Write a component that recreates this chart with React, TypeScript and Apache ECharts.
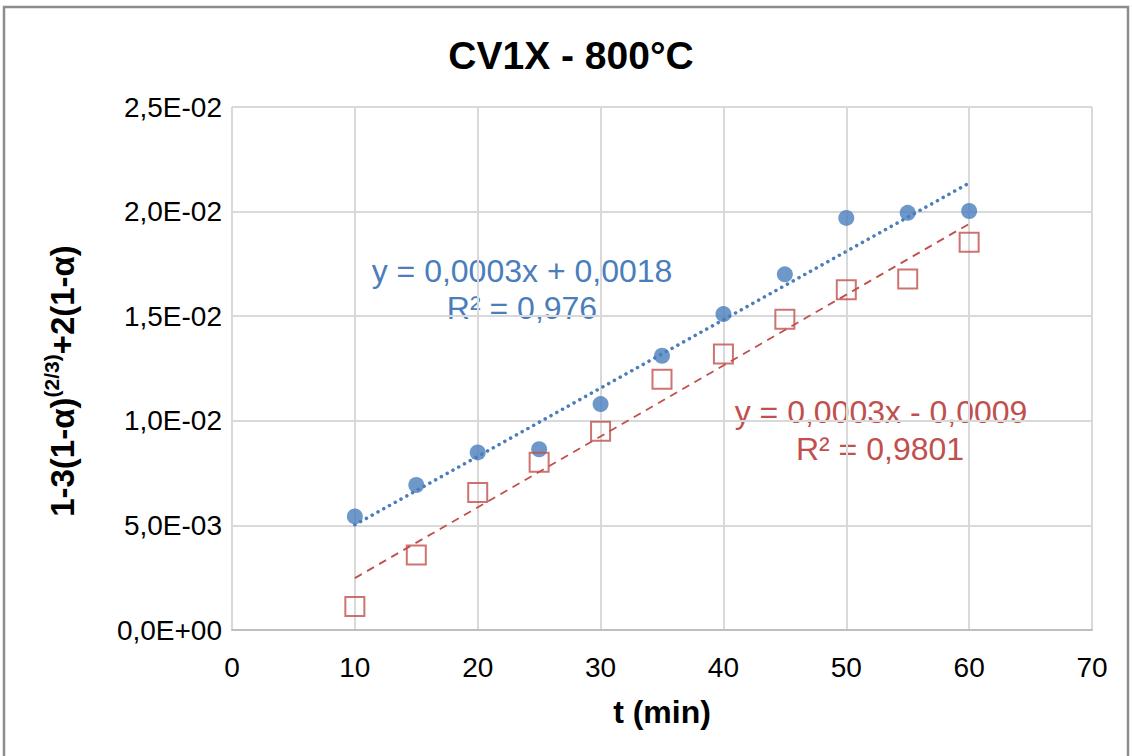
import React, { useEffect, useRef } from "react";
import * as echarts from "echarts";

const times = [10, 15, 20, 25, 30, 35, 40, 45, 50, 55, 60];
const seriesA = [0.00543, 0.00693, 0.00849, 0.00864, 0.0108, 0.01311, 0.0151, 0.017, 0.0197, 0.01994, 0.02003];
const seriesB = [0.00112, 0.00359, 0.00657, 0.00802, 0.0095, 0.01199, 0.01319, 0.01486, 0.01627, 0.01678, 0.01853];
const xTicks = { min: 0, max: 70, interval: 10 };
const yTicks = { min: 0, max: 0.025, interval: 0.005 };
const titleText = "CV1X - 800°C";
const xName = "t (min)";
const eqA = ["y = 0,0003x + 0,0018", "R² = 0,976"];
const eqB = ["y = 0,0003x - 0,0009", "R² = 0,9801"];

const FONT = "'Liberation Sans', Arial, sans-serif";
const BLUE = "#4A7EBB";
const RED = "#C0504D";

function fit(xs: number[], ys: number[]) {
  const n = xs.length;
  const mx = xs.reduce((a, b) => a + b, 0) / n;
  const my = ys.reduce((a, b) => a + b, 0) / n;
  let sxy = 0, sxx = 0;
  for (let i = 0; i < n; i++) {
    sxy += (xs[i] - mx) * (ys[i] - my);
    sxx += (xs[i] - mx) * (xs[i] - mx);
  }
  const b = sxy / sxx;
  const a = my - b * mx;
  const x0 = xs[0], x1 = xs[n - 1];
  return [[x0, a + b * x0], [x1, a + b * x1]];
}

function sci(v: number) {
  if (Math.abs(v) < 1e-12) return "0,0E+00";
  let exp = Math.floor(Math.log10(Math.abs(v)) + 1e-9);
  let mant = v / Math.pow(10, exp);
  let m = mant.toFixed(1);
  if (m === "10.0") { exp += 1; m = "1.0"; }
  const e = Math.abs(exp).toString().padStart(2, "0");
  return m.replace(".", ",") + "E" + (exp < 0 ? "-" : "+") + e;
}

export default function App() {
  const ref = useRef<HTMLDivElement>(null);
  useEffect(() => {
    if (!ref.current) return;
    const chart = echarts.init(ref.current, undefined, { renderer: "svg" });
    const dA = times.map((t, i) => [t, seriesA[i]]);
    const dB = times.map((t, i) => [t, seriesB[i]]);
    chart.setOption({
      animation: false,
      backgroundColor: "#ffffff",
      title: {
        text: titleText,
        left: 566,
        top: 31,
        textAlign: "center",
        textStyle: { fontFamily: FONT, fontSize: 39, fontWeight: "bold", color: "#000" },
      },
      grid: { left: 232, top: 107, right: 40, bottom: 126 },
      xAxis: {
        type: "value",
        min: xTicks.min,
        max: xTicks.max,
        interval: xTicks.interval,
        name: xName,
        nameLocation: "middle",
        nameGap: 66,
        nameTextStyle: { fontFamily: FONT, fontSize: 32, fontWeight: "bold", color: "#000" },
        axisLine: { show: true, lineStyle: { color: "#bfbfbf", width: 2 } },
        axisTick: { show: false },
        axisLabel: { fontFamily: FONT, fontSize: 28, color: "#000", margin: 23 },
        splitLine: { show: true, lineStyle: { color: "#d9d9d9", width: 2 } },
      },
      yAxis: {
        type: "value",
        min: yTicks.min,
        max: yTicks.max,
        interval: yTicks.interval,
        axisLine: { show: false },
        axisTick: { show: false },
        axisLabel: { fontFamily: FONT, fontSize: 28, color: "#000", margin: 10, formatter: sci },
        splitLine: { show: true, lineStyle: { color: "#d9d9d9", width: 2 } },
      },
      graphic: [
        {
          type: "rect",
          shape: { x: 4, y: 7, width: 1124, height: 800 },
          style: { fill: "none", stroke: "#8c8c8c", lineWidth: 2.5 },
          silent: true,
        },
        {
          type: "text",
          x: 60,
          y: 381,
          rotation: Math.PI / 2,
          style: {
            text: "{a|1-3(1-α)}{s|(2/3)}{a|+2(1-α)}",
            align: "center",
            verticalAlign: "middle",
            fill: "#000",
            rich: {
              a: { fontFamily: FONT, fontSize: 33, fontWeight: "bold", fill: "#000", lineHeight: 38, verticalAlign: "bottom" },
              s: { fontFamily: FONT, fontSize: 21, fontWeight: "bold", fill: "#000", lineHeight: 38, verticalAlign: "top", padding: [0, 0, 13, 0] },
            },
          },
        },
        {
          type: "text",
          x: 522,
          y: 271,
          style: { text: eqA[0], align: "center", verticalAlign: "middle", fill: BLUE, fontFamily: FONT, fontSize: 32 },
        },
        {
          type: "text",
          x: 522,
          y: 308,
          style: { text: eqA[1], align: "center", verticalAlign: "middle", fill: BLUE, fontFamily: FONT, fontSize: 32 },
        },
        {
          type: "text",
          x: 881,
          y: 412,
          style: { text: eqB[0], align: "center", verticalAlign: "middle", fill: RED, fontFamily: FONT, fontSize: 32 },
        },
        {
          type: "text",
          x: 880,
          y: 449,
          style: { text: eqB[1], align: "center", verticalAlign: "middle", fill: RED, fontFamily: FONT, fontSize: 32 },
        },
      ],
      series: [
        {
          type: "scatter",
          data: dA,
          symbol: "circle",
          symbolSize: 16,
          itemStyle: { color: BLUE },
          z: 3,
        },
        {
          type: "scatter",
          data: dB,
          symbol: "rect",
          symbolSize: 19,
          itemStyle: { color: "rgba(255,255,255,0)", borderColor: RED, borderWidth: 2 },
          z: 3,
        },
        {
          type: "line",
          data: fit(times, seriesA),
          showSymbol: false,
          symbol: "none",
          lineStyle: { color: BLUE, width: 3.5, type: [0.1, 6.5], cap: "round" },
          z: 4,
        },
        {
          type: "line",
          data: fit(times, seriesB),
          showSymbol: false,
          symbol: "none",
          lineStyle: { color: RED, width: 1.8, type: [8, 6] },
          z: 4,
        },
      ],
    });
    return () => chart.dispose();
  }, []);
  return (
    <div
      ref={ref}
      style={{ position: "absolute", left: 0, top: 0, width: 1132, height: 756 }}
    />
  );
}
